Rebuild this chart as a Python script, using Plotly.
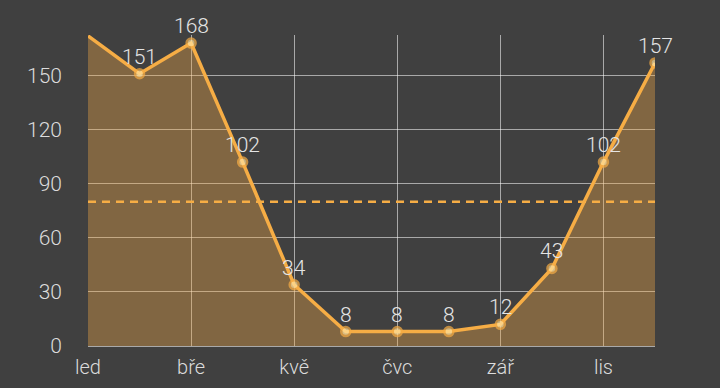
import plotly.graph_objects as go

months = ["led", "úno", "bře", "dub", "kvě", "čer", "čvc", "srp", "zář", "říj", "lis", "pro"]
values = [172, 151, 168, 102, 34, 8, 8, 8, 12, 43, 102, 157]
threshold = 80
y_ticks = [0, 30, 60, 90, 120, 150]
x_tick_labels = ["led", "bře", "kvě", "čvc", "zář", "lis"]

x_idx = list(range(len(months)))
msize = [0] + [9] * (len(values) - 1)

fig = go.Figure()
fig.add_trace(go.Scatter(
    x=x_idx, y=values, mode="lines+markers",
    line=dict(color="#f6ad45", width=3.5),
    fill="tozeroy", fillcolor="rgba(245,170,70,0.36)",
    marker=dict(size=msize, color="#ffe2a0", line=dict(color="#f6ad45", width=2.5)),
    hoverinfo="skip", showlegend=False,
))
fig.add_trace(go.Scatter(
    x=[x_idx[0], x_idx[-1]], y=[threshold, threshold], mode="lines",
    line=dict(color="#f6ad45", width=2.5, dash="8px,6px"),
    hoverinfo="skip", showlegend=False,
))

for xi, v in zip(x_idx[1:], values[1:]):
    fig.add_annotation(
        x=xi, y=v, text=str(v), showarrow=False, yanchor="middle", yshift=17,
        font=dict(family="Roboto", size=21, color="#e4e4e4", weight=300),
    )

fig.update_layout(
    width=720, height=388,
    margin=dict(l=88, r=65, t=35, b=42, autoexpand=False),
    paper_bgcolor="#404040", plot_bgcolor="#404040",
    font=dict(family="Roboto", size=20, color="#dcdcdc", weight=300),
    xaxis=dict(
        range=[0, len(months) - 1], tickmode="array",
        tickvals=x_idx[::2], ticktext=x_tick_labels, automargin=False,
        showgrid=True, gridcolor="rgba(255,255,255,0.55)", gridwidth=1,
        zeroline=False, showline=True, linecolor="rgba(255,255,255,0.55)",
        ticks="", ticklabelstandoff=3,
        tickfont=dict(family="Roboto", size=20, color="#dcdcdc", weight=300),
    ),
    yaxis=dict(
        range=[0, 172.5], tickmode="array", tickvals=y_ticks, automargin=False,
        showgrid=True, gridcolor="rgba(255,255,255,0.55)", gridwidth=1,
        zeroline=False, ticks="", ticklabelstandoff=25,
        tickfont=dict(family="Roboto", size=21, color="#dcdcdc", weight=300),
    ),
)
fig.write_html(
    "out.html",
    config={"displayModeBar": False},
    post_script="document.body.style.margin='0';document.body.style.overflow='hidden';",
)
